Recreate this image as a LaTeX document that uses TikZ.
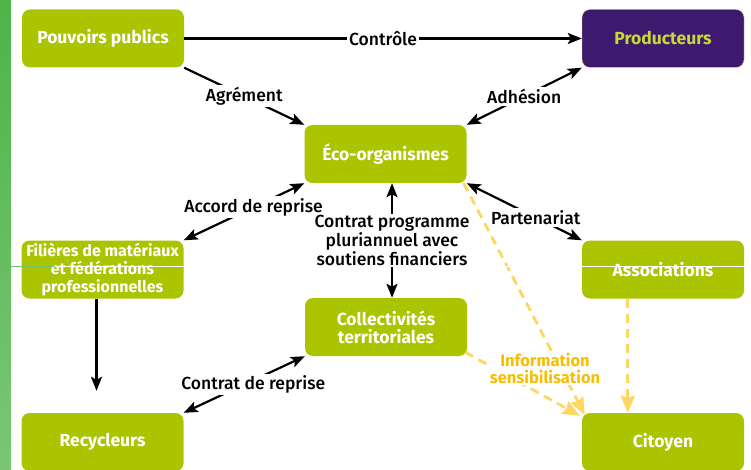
\documentclass[tikz,border=0pt]{standalone}
\usepackage{fontspec}
\setmainfont{Fira Sans}
\newfontfamily\lblfont{Fira Sans Medium}
\usetikzlibrary{arrows.meta}
\definecolor{boxgreen}{RGB}{170,196,0}
\definecolor{prodviolet}{RGB}{62,26,110}
\definecolor{prodtext}{RGB}{200,216,60}
\definecolor{infotext}{RGB}{248,190,0}
\definecolor{infodash}{RGB}{255,214,95}
\definecolor{barTop}{RGB}{78,180,72}
\definecolor{barBot}{RGB}{122,198,118}
\begin{document}
\begin{tikzpicture}[x=1pt,y=-1pt,
  >={Stealth[length=14pt,width=11pt,inset=3pt]},
  box/.style={rectangle,rounded corners=8pt,fill=boxgreen,text=white,minimum width=162pt,minimum height=58pt,inner sep=2pt,align=center,font=\fontsize{17.5}{18}\selectfont\bfseries},
  lbl/.style={fill=white,inner sep=2pt,align=center,font=\lblfont\fontsize{17.5}{17}\selectfont},
  arr/.style={line width=2.2pt},
  info/.style={infodash,line width=2.8pt,dash pattern=on 9pt off 6pt,-{Stealth[length=17pt,width=14pt,inset=2pt]}}]
\useasboundingbox (0,0) rectangle (751,470);
\shade[top color=barTop,bottom color=barBot] (0,0) rectangle (11,470);
% boxes
\node[box] (pp) at (103,38.5) {Pouvoirs publics};
\node[box,fill=prodviolet,draw=boxgreen!50,thin,text=prodtext] (prod) at (663,38.5) {Producteurs};
\node[box] (eco) at (385.5,154) {Éco-organismes};
\node[box,font=\fontsize{16}{18}\selectfont\bfseries] (fil) at (102.5,269.5) {Filières de matériaux\\et fédérations\\professionnelles};
\node[box] (asso) at (663,269.5) {Associations};
\node[box] (coll) at (386,327) {Collectivités\\territoriales};
\node[box] (rec) at (102.5,442) {Recycleurs};
\node[box] (cit) at (663,442) {Citoyen};
% links
\draw[arr,->] (pp.east) -- (prod.west) node[lbl,midway] (lctrl) {Contrôle};
\draw[arr,->] (pp.south east) -- (eco.north west) node[lbl,midway] (lagr) {Agrément};
\draw[arr,<->] (eco.north east) -- (prod.south west) node[lbl,midway] (ladh) {Adhésion};
\draw[arr,<->] (eco.south west) -- (fil.north east) node[lbl,pos=0.42] (lacc) {Accord de reprise};
\draw[arr,<->] ([xshift=6.5pt]eco.south) -- ([xshift=6pt]coll.north) node[lbl,midway,inner sep=1pt,font=\lblfont\fontsize{17.5}{17.5}\selectfont] (lcp) {Contrat programme\\pluriannuel avec\\soutiens financiers};
\draw[arr,<->] (eco.south east) -- (asso.north west) node[lbl,pos=0.6] (lpart) {Partenariat};
\draw[arr,->] ([xshift=-6pt]fil.south) -- ([xshift=-6pt,yshift=22pt]rec.north);
\draw[arr,<->] (coll.south west) -- (rec.north east) node[lbl,midway,xshift=9pt] (lcr) {Contrat de reprise};
% information
\draw[info] ([xshift=-3pt]eco.south east) -- ([xshift=3pt,yshift=-2pt]cit.north west);
\draw[info] ([xshift=-2pt,yshift=4pt]coll.south east) -- ([xshift=-2pt,yshift=-3pt]cit.north west);
\draw[info] ([xshift=46pt]asso.south west) -- ([xshift=46pt]cit.north west);
\node[fill=white,inner sep=2pt,align=center,text=infotext,font=\fontsize{16.5}{17}\selectfont\bfseries] (linfo) at (545,368) {Information\\sensibilisation};
\draw[white,line width=0.8pt] (55,266) -- (751,266);
\draw[barTop!80!white,line width=0.8pt] (11,266) -- (55,266);
\end{tikzpicture}
\end{document}
